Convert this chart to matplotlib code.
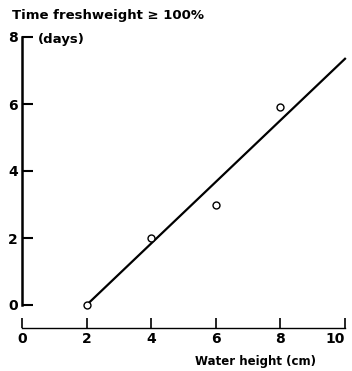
import matplotlib
matplotlib.use("Agg")
import matplotlib.pyplot as plt

# measured points
water_height = [2, 4, 6, 8]
days_above = [0, 2, 3, 5.9]
# regression line end points
line_x = [2, 10]
line_y = [0, 7.35]

xticks = [0, 2, 4, 6, 8, 10]
yticks = [0, 2, 4, 6, 8]

plt.rcParams["font.family"] = "DejaVu Sans"
plt.rcParams["font.weight"] = "bold"

fig = plt.figure(figsize=(3.52, 3.71), dpi=100)
ax = fig.add_axes([22 / 352, 66 / 371, 323 / 352, 268 / 371])

ax.plot(line_x, line_y, color="black", lw=1.6, clip_on=False, zorder=2)
ax.plot(water_height, days_above, "o", mfc="white", mec="black", mew=1.0,
        ms=5, clip_on=False, zorder=3)

ax.set_xlim(0, 10)
ax.set_ylim(0, 8)
ax.set_xticks(xticks)
ax.set_yticks(yticks)
ax.set_xticklabels([str(t) for t in xticks], fontsize=9)
ax.set_yticklabels([str(t) for t in yticks], fontsize=10, fontweight="bold")

for s in ["top", "right"]:
  ax.spines[s].set_visible(False)
ax.spines["left"].set_linewidth(1.8)
ax.spines["bottom"].set_linewidth(1.0)
ax.spines["bottom"].set_linestyle((0, (4, 1)))
ax.spines["bottom"].set_position(("outward", 16.5))

ax.tick_params(axis="y", direction="in", length=8, width=1.5, pad=3)
ax.tick_params(axis="x", direction="in", length=7, width=1.2, pad=3)

# last label sits at the right edge of the figure
ax.xaxis.get_major_ticks()[-1].label1.set_horizontalalignment("right")

fig.text(12 / 352, 1 - 15 / 371, "Time freshweight \u2265 100%", fontsize=9.5,
         fontweight="bold", va="center", ha="left")
fig.text(38 / 352, 1 - 40 / 371, "(days)", fontsize=9.5, fontweight="bold",
         va="center", ha="left")
fig.text(195 / 352, 1 - 361 / 371, "Water height (cm)", fontsize=8.5,
         va="center", ha="left")

fig.savefig("out.png", dpi=100)
